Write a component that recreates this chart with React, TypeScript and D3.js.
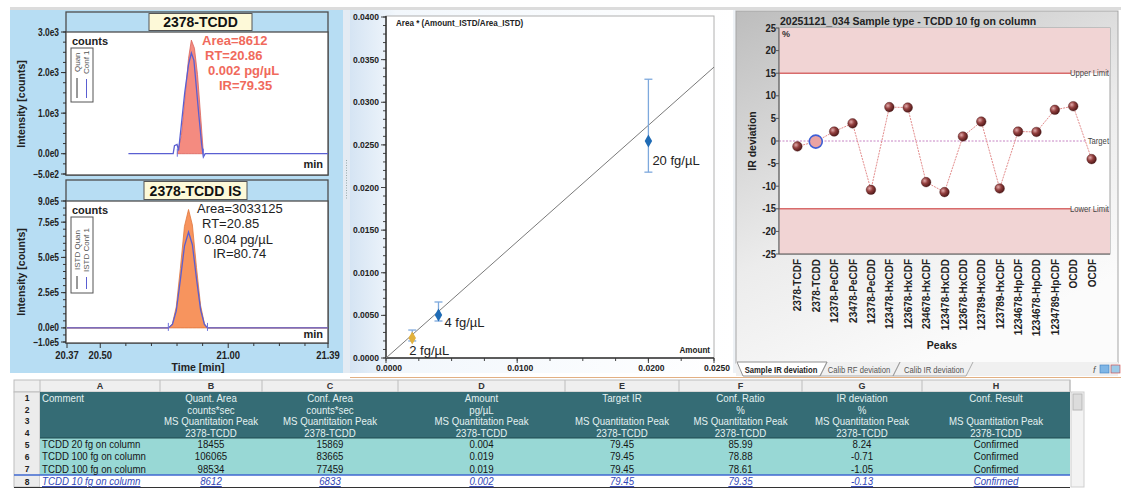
import React from 'react';
import * as d3 from 'd3';

const FONT = '"Liberation Sans", Arial, Helvetica, sans-serif';

// ---- chromatogram 2378-TCDD (time in min, intensity in counts) ----
const tcddQuanTime = [20.801, 20.817, 20.833, 20.845, 20.856, 20.868, 20.88, 20.892, 20.903];
const tcddQuanCounts = [0, 450, 1500, 2350, 2800, 2600, 1950, 950, 0];
const tcddConfTime = [20.61, 20.785, 20.79, 20.8, 20.806, 20.815, 20.83, 20.845, 20.856, 20.866, 20.876, 20.886, 20.896, 20.903, 20.91, 21.39];
const tcddConfCounts = [0, 0, 200, 230, 80, 600, 1500, 2200, 2480, 2300, 1600, 900, 250, -80, 0, 0];
const tcddNotes = ['Area=8612', 'RT=20.86', '0.002 pg/µL', 'IR=79.35'];

// ---- chromatogram 2378-TCDD IS ----
const istdTime = [20.37, 20.766, 20.782, 20.797, 20.813, 20.829, 20.845, 20.86, 20.876, 20.892, 20.907, 20.919, 21.39];
const istdQuanCounts = [0, 0, 30000, 150000, 420000, 720000, 840000, 730000, 430000, 160000, 30000, 0, 0];
const istdConfCounts = [0, 0, 25000, 120000, 340000, 580000, 680000, 590000, 350000, 130000, 25000, 0, 0];
const istdNotes = ['Area=3033125', 'RT=20.85', '0.804 pg/µL', 'IR=80.74'];

const timeTickLabels = [20.37, 20.5, 21.0, 21.39];
const timeMinorTicks = [20.6, 20.7, 20.8, 20.9, 21.1, 21.2, 21.3];

// ---- calibration ----
const calLevels = ['2 fg/µL', '4 fg/µL', '20 fg/µL'];
const calAmount = [0.002, 0.004, 0.02];
const calResponse = [0.00235, 0.00504, 0.02545];
const calErrLow = [0.002, 0.00434, 0.0218];
const calErrHigh = [0.00328, 0.00657, 0.0327];
const calSlope = 1.365;

// ---- IR deviation ----
const peakNames = ['2378-TCDF', '2378-TCDD', '12378-PeCDF', '23478-PeCDF', '12378-PeCDD', '123478-HxCDF', '123678-HxCDF', '234678-HxCDF', '123478-HxCDD', '123678-HxCDD', '123789-HxCDD', '123789-HxCDF', '1234678-HpCDF', '1234678-HpCDD', '1234789-HpCDF', 'OCDD', 'OCDF'];
const irDeviation = [-1.2, -0.13, 2.1, 3.9, -10.8, 7.5, 7.4, -9.1, -11.3, 1.0, 4.3, -10.5, 2.1, 2.0, 6.9, 7.7, -4.0];
const selectedPeak = '2378-TCDD';
const upperLimit = 15;
const lowerLimit = -15;

// ---- results table ----
const colLetters = ['A', 'B', 'C', 'D', 'E', 'F', 'G', 'H'];
const headTitle = ['Comment', 'Quant. Area', 'Conf. Area', 'Amount', 'Target IR', 'Conf. Ratio', 'IR deviation', 'Conf. Result'];
const headUnit = ['', 'counts*sec', 'counts*sec', 'pg/µL', '', '%', '%', ''];
const headSource = ['', 'MS Quantitation Peak', 'MS Quantitation Peak', 'MS Quantitation Peak', 'MS Quantitation Peak', 'MS Quantitation Peak', 'MS Quantitation Peak', 'MS Quantitation Peak'];
const headPeak = ['', '2378-TCDD', '2378-TCDD', '2378-TCDD', '2378-TCDD', '2378-TCDD', '2378-TCDD', '2378-TCDD'];
const row5 = ['TCDD 20 fg on column', '18455', '15869', '0.004', '79.45', '85.99', '8.24', 'Confirmed'];
const row6 = ['TCDD 100 fg on column', '106065', '83665', '0.019', '79.45', '78.88', '-0.71', 'Confirmed'];
const row7 = ['TCDD 100 fg on column', '98534', '77459', '0.019', '79.45', '78.61', '-1.05', 'Confirmed'];
const row8 = ['TCDD 10 fg on column', '8612', '6833', '0.002', '79.45', '79.35', '-0.13', 'Confirmed'];

// squeezed text, the screenshot fonts are narrow
function T(props: any) {
  const { x, y, sx = 1, children, ...rest } = props;
  return (
    <text transform={`translate(${x},${y}) scale(${sx},1)`} {...rest}>{children}</text>
  );
}

const expFmt = (v: number) => d3.format('.1e')(v).replace('+', '');

function Chromatogram(props: any) {
  const { y0, plotY0, plotY1, yDomain, yLabels, yMinor, title, boxX, boxW, quanT, quanV, confT, confV,
    fill, edge, notes, noteX, noteY, noteColor, noteWeight, legend, legendY, legendH, legendTextY, countsY, minY, axis } = props;
  const x = d3.scaleLinear().domain([20.37, 21.39]).range([67, 328]);
  const y = d3.scaleLinear().domain(yDomain).range([plotY1 - 1, plotY0]);
  const quan = quanT.map((t: number, i: number) => [t, quanV[i]]);
  const conf = confT.map((t: number, i: number) => [t, confV[i]]);
  const area = d3.area<number[]>().x(d => x(d[0])).y0(y(0)).y1(d => y(d[1]));
  const line = d3.line<number[]>().x(d => x(d[0])).y(d => y(d[1]));
  // integration start / end: last zero before the peak, first zero after it
  const iStart = quan.findIndex((d: number[], i: number) => i + 1 < quan.length && quan[i + 1][1] > 0);
  const iEnd = quan.findIndex((d: number[], i: number) => i > iStart && d[1] === 0);
  const startT = quan[iStart][0];
  const endT = quan[iEnd][0];
  return (
    <g>
      <rect x={66} y={y0} width={262} height={plotY1 - y0} fill="#b7ddf3" stroke="#4d4d4d" strokeWidth={1.3} />
      <rect x={66} y={plotY0} width={262} height={plotY1 - plotY0} fill="#fff" stroke="#4d4d4d" strokeWidth={1.3} />
      <rect x={boxX} y={y0 + 1.5} width={boxW} height={plotY0 - y0 - 3} fill="#fdf9d8" stroke="#555" strokeWidth={1} />
      <text x={boxX + boxW / 2} y={plotY0 - 5} textAnchor="middle" fontSize={14} fontWeight="bold" fill="#111">{title}</text>
      {yMinor.map((v: number) => (
        <line key={'m' + v} x1={63} x2={66} y1={y(v)} y2={y(v)} stroke="#333" />
      ))}
      {yLabels.map((v: number) => (
        <g key={v}>
          <line x1={61} x2={66} y1={y(v)} y2={y(v)} stroke="#333" />
          <T x={59} y={y(v) + 3.5} sx={0.8} textAnchor="end" fontSize={10.5} fontWeight="bold" fill="#222">{expFmt(v)}</T>
        </g>
      ))}
      <path d={area(quan) || ''} fill={fill} stroke={edge} strokeWidth={0.8} />
      <path d={line(conf) || ''} fill="none" stroke="#5a5fd2" strokeWidth={1.3} />
      <line x1={x(startT)} x2={x(startT)} y1={y(0) - 5} y2={y(0) + 3} stroke="#6c72dc" />
      <line x1={x(endT)} x2={x(endT)} y1={y(0) - 5} y2={y(0) + 3} stroke="#6c72dc" />
      {notes.map((s: string, i: number) => (
        <text key={s} x={noteX[i]} y={noteY[i]} fontSize={13} fontWeight={noteWeight} fill={noteColor}>{s}</text>
      ))}
      <text x={72} y={countsY} fontSize={11} fontWeight="bold" fill="#222">counts</text>
      <rect x={71} y={legendY} width={22} height={legendH} fill="#fff" stroke="#555" />
      <text transform={`translate(80,${legendTextY}) rotate(-90)`} fontSize={8} fill="#555">{legend[0]}</text>
      <text transform={`translate(89,${legendTextY + 2}) rotate(-90)`} fontSize={8} fill="#555">{legend[1]}</text>
      <line x1={77} x2={77} y1={legendTextY + 6} y2={legendY + legendH - 4} stroke="#333" />
      <line x1={86.5} x2={86.5} y1={legendTextY + 7} y2={legendY + legendH - 4} stroke="#5a5fd2" />
      <text x={323} y={minY} textAnchor="end" fontSize={11} fontWeight="bold" fill="#222">min</text>
      {axis && (
        <g>
          {timeMinorTicks.map(t => (
            <line key={t} x1={x(t)} x2={x(t)} y1={plotY1} y2={plotY1 + 3} stroke="#333" />
          ))}
          {timeTickLabels.map(t => (
            <g key={t}>
              <line x1={x(t)} x2={x(t)} y1={plotY1} y2={plotY1 + 5} stroke="#333" />
              <T x={x(t)} y={plotY1 + 16} sx={0.9} textAnchor="middle" fontSize={10.5} fontWeight="bold" fill="#222">{t.toFixed(2)}</T>
            </g>
          ))}
        </g>
      )}
    </g>
  );
}

function ChromPanel() {
  return (
    <g>
      <rect x={10} y={10} width={333} height={363} fill="#b7ddf3" />
      <Chromatogram
        y0={12} plotY0={32} plotY1={175} yDomain={[-500, 3000]}
        yLabels={[3000, 2000, 1000, 0, -500]} yMinor={d3.range(-500, 3001, 250)}
        title="2378-TCDD" boxX={149} boxW={103}
        quanT={tcddQuanTime} quanV={tcddQuanCounts} confT={tcddConfTime} confV={tcddConfCounts}
        fill="#f48b80" edge="#d9645c"
        notes={tcddNotes} noteX={[202, 205, 208, 219]} noteY={[45, 59.5, 75, 90]} noteColor="#f06a5c" noteWeight="bold"
        legend={['Quan', 'Conf 1']} legendY={48} legendH={54} legendTextY={72}
        countsY={45} minY={168} axis={false}
      />
      <Chromatogram
        y0={180} plotY0={201} plotY1={343} yDomain={[-100000, 900000]}
        yLabels={[900000, 750000, 500000, 250000, 0, -100000]} yMinor={d3.range(-100000, 900001, 50000)}
        title="2378-TCDD IS" boxX={144} boxW={103}
        quanT={istdTime} quanV={istdQuanCounts} confT={istdTime} confV={istdConfCounts}
        fill="#f7945e" edge="#e0763c"
        notes={istdNotes} noteX={[197, 202, 204, 213]} noteY={[213, 227.5, 243.5, 258]} noteColor="#1e1e1e" noteWeight="normal"
        legend={['ISTD Quan', 'ISTD Conf 1']} legendY={217} legendH={76} legendTextY={270}
        countsY={214} minY={338} axis={true}
      />
      <text transform="translate(25,104) rotate(-90)" textAnchor="middle" fontSize={10.5} fontWeight="bold" fill="#222">Intensity [counts]</text>
      <text transform="translate(25,272) rotate(-90)" textAnchor="middle" fontSize={10.5} fontWeight="bold" fill="#222">Intensity [counts]</text>
      <text x={198} y={371} textAnchor="middle" fontSize={10.5} fontWeight="bold" fill="#222">Time [min]</text>
    </g>
  );
}

function CalibrationPanel() {
  const x = d3.scaleLinear().domain([0, 0.025]).range([386, 714]);
  const y = d3.scaleLinear().domain([0, 0.04]).range([358, 17]);
  const yMajor = d3.range(0, 0.04001, 0.005);
  const yMinor = d3.range(0, 0.04001, 0.001);
  const xMinor = d3.range(0, 0.02501, 0.0025);
  const xLabels = [0, 0.01, 0.02, 0.025];
  const fit = d3.line<number>().x(d => x(d)).y(d => y(d * calSlope));
  const diamond = d3.symbol(d3.symbolDiamond, 48)() || '';
  const pointColor = ['#e2b13c', '#1f6bb5', '#1f6bb5'];
  const labelDx = [-3, 6, 4];
  const labelDy = [17, 12, 24];
  return (
    <g>
      <rect x={350} y={10} width={383} height={363} fill="url(#calBg)" />
      <rect x={386} y={16} width={328} height={342} fill="#fff" stroke="#b0b0b0" />
      {yMinor.map(v => <line key={'ym' + v} x1={383} x2={386} y1={y(v)} y2={y(v)} stroke="#444" />)}
      {yMajor.map(v => (
        <g key={'y' + v}>
          <line x1={381} x2={386} y1={y(v)} y2={y(v)} stroke="#444" />
          <T x={379} y={y(v) + 3} sx={0.95} textAnchor="end" fontSize={9} fontWeight="bold" fill="#222">{v.toFixed(4)}</T>
        </g>
      ))}
      {xMinor.map(v => <line key={'xm' + v} x1={x(v)} x2={x(v)} y1={358} y2={361} stroke="#444" />)}
      {xLabels.map(v => (
        <g key={'x' + v}>
          <line x1={x(v)} x2={x(v)} y1={358} y2={363} stroke="#444" />
          <T x={x(v) + 3} y={371} sx={0.95} textAnchor="middle" fontSize={9} fontWeight="bold" fill="#222">{v.toFixed(4)}</T>
        </g>
      ))}
      <line x1={386} x2={386} y1={16} y2={358} stroke="#333" strokeWidth={1.5} />
      <line x1={386} x2={714} y1={358} y2={358} stroke="#333" strokeWidth={1.5} />
      <path d={fit([0, 0.025]) || ''} fill="none" stroke="#7a7a7a" strokeWidth={1} />
      {calAmount.map((a, i) => (
        <g key={calLevels[i]}>
          <line x1={x(a)} x2={x(a)} y1={y(calErrLow[i])} y2={y(calErrHigh[i])} stroke="#7ea9dd" strokeWidth={1.3} />
          <line x1={x(a) - 4} x2={x(a) + 4} y1={y(calErrLow[i])} y2={y(calErrLow[i])} stroke="#7ea9dd" strokeWidth={1.3} />
          <line x1={x(a) - 4} x2={x(a) + 4} y1={y(calErrHigh[i])} y2={y(calErrHigh[i])} stroke="#7ea9dd" strokeWidth={1.3} />
          <path d={diamond} transform={`translate(${x(a)},${y(calResponse[i])})`} fill={pointColor[i]} />
          <text x={x(a) + labelDx[i]} y={y(calResponse[i]) + labelDy[i]} fontSize={13} fill="#222">{calLevels[i]}</text>
        </g>
      ))}
      <T x={396} y={26} sx={0.95} fontSize={8.5} fontWeight="bold" fill="#222">Area * (Amount_ISTD/Area_ISTD)</T>
      <T x={710} y={353} sx={0.95} textAnchor="end" fontSize={8.5} fontWeight="bold" fill="#222">Amount</T>
    </g>
  );
}

function IrPanel() {
  const x = d3.scalePoint<string>().domain(peakNames).range([779, 1110]).padding(1);
  const y = d3.scaleLinear().domain([-25, 25]).range([254, 28]);
  const pts = peakNames.map((p, i) => [x(p) as number, y(irDeviation[i])]);
  const link = d3.line<number[]>().x(d => d[0]).y(d => d[1]);
  const yTicks = d3.range(-25, 26, 5);
  return (
    <g>
      <rect x={736} y={11} width={382} height={352} fill="url(#irBg)" stroke="#a5a5a5" />
      <text x={780} y={25} fontSize={10.5} fontWeight="bold" fill="#222">20251121_034 Sample type - TCDD 10 fg on column</text>
      <rect x={779} y={28} width={331} height={226} fill="#fff" stroke="#a0a0a0" />
      <rect x={779} y={y(25)} width={331} height={y(upperLimit) - y(25)} fill="#f1d4d4" />
      <rect x={779} y={y(lowerLimit)} width={331} height={y(-25) - y(lowerLimit)} fill="#f1d4d4" />
      <line x1={779} x2={1071} y1={y(upperLimit)} y2={y(upperLimit)} stroke="#d86b6b" strokeWidth={1.5} />
      <line x1={779} x2={1071} y1={y(lowerLimit)} y2={y(lowerLimit)} stroke="#d86b6b" strokeWidth={1.5} />
      <line x1={779} x2={1087} y1={y(0)} y2={y(0)} stroke="#c684c4" strokeWidth={1} strokeDasharray="2 1.5" />
      <T x={1109} y={y(upperLimit) + 3} sx={0.9} textAnchor="end" fontSize={8.5} fill="#444">Upper Limit</T>
      <T x={1109} y={y(0) + 3} sx={0.9} textAnchor="end" fontSize={8.5} fill="#444">Target</T>
      <T x={1109} y={y(lowerLimit) + 3} sx={0.9} textAnchor="end" fontSize={8.5} fill="#444">Lower Limit</T>
      <line x1={779} x2={779} y1={28} y2={254} stroke="#555" />
      <line x1={779} x2={1110} y1={254} y2={254} stroke="#555" />
      {yTicks.map(v => (
        <g key={v}>
          <line x1={776} x2={779} y1={y(v)} y2={y(v)} stroke="#555" />
          <T x={776} y={y(v) + 3.5} sx={0.9} textAnchor="end" fontSize={10.5} fontWeight="bold" fill="#222">{v}</T>
        </g>
      ))}
      <text x={782} y={37} fontSize={9} fontWeight="bold" fill="#333">%</text>
      <text transform="translate(756,141) rotate(-90)" textAnchor="middle" fontSize={10.5} fontWeight="bold" fill="#222">IR deviation</text>
      <path d={link(pts) || ''} fill="none" stroke="#e38c8c" strokeWidth={1} strokeDasharray="2 1" />
      {peakNames.map((p, i) => (
        p === selectedPeak
          ? <circle key={p} cx={pts[i][0]} cy={pts[i][1]} r={6.5} fill="#eaa3a3" stroke="#3f5fd6" strokeWidth={1.6} />
          : <circle key={p} cx={pts[i][0]} cy={pts[i][1]} r={4.8} fill="url(#sphere)" stroke="#4a1818" strokeWidth={0.4} />
      ))}
      {peakNames.map(p => (
        <text key={'l' + p} transform={`translate(${(x(p) as number) + 4},259) rotate(-90)`} textAnchor="end" fontSize={10} fontWeight="bold" fill="#222">{p}</text>
      ))}
      <text x={942} y={349} textAnchor="middle" fontSize={10.5} fontWeight="bold" fill="#222">Peaks</text>
      {/* tabs */}
      <rect x={736} y={362} width={382} height={14} fill="#f0f0f0" />
      <path d="M737,362 L827,362 L820,376 L743,376 Z" fill="#fff" stroke="#777" strokeWidth={0.8} />
      <path d="M827,362 L820,376 L893,376 L900,362" fill="none" stroke="#999" strokeWidth={0.8} />
      <path d="M900,362 L893,376 L966,376 L973,362" fill="none" stroke="#999" strokeWidth={0.8} />
      <T x={781} y={372.5} sx={0.9} textAnchor="middle" fontSize={8.5} fontWeight="bold" fill="#222">Sample IR deviation</T>
      <T x={859} y={372.5} sx={0.9} textAnchor="middle" fontSize={8.5} fill="#555">Calib RF deviation</T>
      <T x={934} y={372.5} sx={0.9} textAnchor="middle" fontSize={8.5} fill="#555">Calib IR deviation</T>
      <text x={1093} y={373} fontSize={9} fontStyle="italic" fill="#555">f</text>
      <rect x={1100} y={365} width={9} height={8} fill="#7fb6e6" stroke="#3c7fc0" strokeWidth={0.6} />
      <rect x={1111} y={365} width={9} height={8} fill="#9ccbe8" stroke="#d04040" strokeWidth={0.6} />
    </g>
  );
}

function ResultTable() {
  const edges = [14, 40, 160, 262, 398, 565, 679, 802, 922, 1070];
  const top = 380;
  const headH = 12;
  const headRows = [headTitle, headUnit, headSource, headPeak];
  const headBase = [402, 413.5, 425, 436.5];
  const dataRows = [row5, row6, row7, row8];
  const dataTop = [438, 450.3, 462.6, 475];
  const cx = (c: number) => (edges[c + 1] + edges[c + 2]) / 2;
  return (
    <g fontFamily={FONT}>
      <line x1={350} x2={1121} y1={377.5} y2={377.5} stroke="#e2b083" />
      <rect x={14} y={top} width={1056} height={headH} fill="#efefef" stroke="#bdbdbd" />
      <rect x={14} y={top + headH} width={26} height={487 - top - headH} fill="#ececec" stroke="#bdbdbd" />
      <rect x={40} y={392} width={1030} height={46} fill="#356c75" />
      <rect x={40} y={438} width={1030} height={37} fill="#98d8d5" />
      <rect x={40} y={475} width={1030} height={12} fill="#fff" />
      <line x1={40} x2={1070} y1={438} y2={438} stroke="#1f4a50" />
      <line x1={14} x2={1070} y1={475} y2={475} stroke="#3f68d0" strokeWidth={1.5} />
      <line x1={14} x2={1070} y1={487.5} y2={487.5} stroke="#333" strokeWidth={1.2} />
      {edges.slice(1).map(e => (
        <line key={e} x1={e} x2={e} y1={top} y2={top + headH} stroke="#bdbdbd" />
      ))}
      {colLetters.map((c, i) => (
        <text key={c} x={cx(i)} y={top + 9} textAnchor="middle" fontSize={9} fontWeight="bold" fill="#333">{c}</text>
      ))}
      {[1, 2, 3, 4, 5, 6, 7, 8].map((n, i) => (
        <text key={n} x={27} y={i < 4 ? headBase[i] - 1 : dataTop[i - 4] + 9.5} textAnchor="middle" fontSize={8.5} fontWeight="bold" fill="#222">{n}</text>
      ))}
      {headRows.map((row, r) => row.map((s, c) => (
        s ? (
          <T key={r + '-' + c} x={c === 0 ? 42 : cx(c)} y={headBase[r]} sx={0.88} textAnchor={c === 0 ? 'start' : 'middle'} fontSize={11} fill="#e4f1f1">{s}</T>
        ) : null
      )))}
      {dataRows.map((row, r) => row.map((s, c) => (
        <T key={'d' + r + '-' + c} x={c === 0 ? 42 : cx(c)} y={dataTop[r] + 10} sx={0.88} textAnchor={c === 0 ? 'start' : 'middle'} fontSize={11}
          fill={r === 3 ? '#3347b8' : '#151515'} fontStyle={r === 3 ? 'italic' : 'normal'} textDecoration={r === 3 ? 'underline' : 'none'}>{s}</T>
      )))}
      <rect x={1071} y={392} width={13} height={95} fill="#f3f3f3" stroke="#cfcfcf" />
      <rect x={1073} y={394} width={9} height={16} fill="#dcdcdc" stroke="#b8b8b8" />
    </g>
  );
}

export default function App() {
  return (
    <svg width={1121} height={491} style={{ position: 'absolute', left: 0, top: 0, fontFamily: FONT }}>
      <defs>
        <linearGradient id="calBg" x1="0" y1="0" x2="1" y2="0">
          <stop offset="0" stopColor="#d5e4f3" />
          <stop offset="0.12" stopColor="#f2f7fc" />
          <stop offset="1" stopColor="#ffffff" />
        </linearGradient>
        <linearGradient id="irBg" x1="0" y1="0" x2="0.5" y2="1">
          <stop offset="0" stopColor="#bdbdbd" />
          <stop offset="0.6" stopColor="#ececec" />
          <stop offset="1" stopColor="#fbfbfb" />
        </linearGradient>
        <radialGradient id="sphere" cx="0.35" cy="0.35" r="0.7">
          <stop offset="0" stopColor="#e2aaaa" />
          <stop offset="0.45" stopColor="#93403f" />
          <stop offset="1" stopColor="#4a1515" />
        </radialGradient>
      </defs>
      <rect width={1121} height={491} fill="#fff" />
      <rect x={10} y={7} width={1111} height={3} fill="#dcdcdc" />
      <ChromPanel />
      <rect x={343} y={10} width={7} height={363} fill="#e3ebf3" />
      <line x1={346.5} x2={346.5} y1={160} y2={200} stroke="#9aa" strokeDasharray="1 1.5" />
      <CalibrationPanel />
      <rect x={733} y={10} width={3} height={363} fill="#eef2f6" />
      <IrPanel />
      <ResultTable />
    </svg>
  );
}
